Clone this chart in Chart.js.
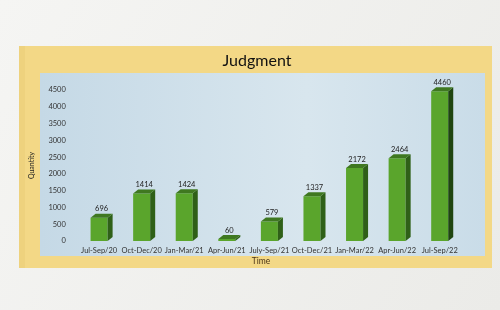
<!DOCTYPE html>
<html>
<head>
<meta charset="utf-8">
<script src="https://cdn.jsdelivr.net/npm/chart.js@4/dist/chart.umd.min.js"></script>
<style>
html,body{margin:0;padding:0;background:#efefec;}
#wrap{width:500px;height:310px;}
</style>
</head>
<body>
<div id="wrap"><canvas id="c" width="500" height="310"></canvas></div>
<script>
const categories = ["Jul-Sep/20","Oct-Dec/20","Jan-Mar/21","Apr-Jun/21","July-Sep/21","Oct-Dec/21","Jan-Mar/22","Apr-Jun/22","Jul-Sep/22"];
const judgments = [696, 1414, 1424, 60, 579, 1337, 2172, 2464, 4460];
const chartTitle = "Judgment";
const xTitle = "Time";
const yTitle = "Quantity";

const FONT = 'Lato, "Liberation Sans", sans-serif';

const backdrop = {
  id: 'backdrop',
  beforeDraw(chart) {
    const ctx = chart.ctx;
    ctx.save();
    const g = ctx.createLinearGradient(0, 0, 500, 310);
    g.addColorStop(0, '#f5f5f3');
    g.addColorStop(1, '#ebebe8');
    ctx.fillStyle = g;
    ctx.fillRect(0, 0, 500, 310);
    ctx.fillStyle = '#f3d886';
    ctx.fillRect(19, 46, 473, 222);
    ctx.fillStyle = '#eed27e';
    ctx.fillRect(19, 46, 6, 222);
    const b = ctx.createLinearGradient(40, 0, 485, 0);
    b.addColorStop(0, '#c5d9e6');
    b.addColorStop(0.6, '#d8e6ee');
    b.addColorStop(1, '#c9dce8');
    ctx.fillStyle = b;
    ctx.fillRect(40, 73, 445, 183);
    ctx.restore();
  },
  afterDraw(chart) {
    const ctx = chart.ctx;
    ctx.save();
    ctx.textAlign = 'center';
    ctx.textBaseline = 'middle';
    ctx.fillStyle = '#111';
    ctx.font = '16px ' + FONT;
    ctx.fillText(chartTitle, 257, 61);
    ctx.fillStyle = '#4a3418';
    ctx.font = '8.5px ' + FONT;
    ctx.fillText(xTitle, 261, 261);
    ctx.restore();
  }
};

const bars3d = {
  id: 'bars3d',
  afterDatasetsDraw(chart) {
    const ctx = chart.ctx;
    const meta = chart.getDatasetMeta(0);
    const dx = 5, dy = 4;
    ctx.save();
    meta.data.forEach((bar, i) => {
      const p = bar.getProps(['x', 'y', 'width', 'base'], true);
      const l = p.x - p.width / 2, r = p.x + p.width / 2;
      ctx.fillStyle = i === meta.data.length - 1 ? '#1f4510' : '#2f6018';
      ctx.beginPath();
      ctx.moveTo(r, p.y);
      ctx.lineTo(r + dx, p.y - dy);
      ctx.lineTo(r + dx, p.base - dy);
      ctx.lineTo(r, p.base);
      ctx.closePath();
      ctx.fill();
      ctx.fillStyle = '#3f7820';
      ctx.beginPath();
      ctx.moveTo(l, p.y);
      ctx.lineTo(l + dx, p.y - dy);
      ctx.lineTo(r + dx, p.y - dy);
      ctx.lineTo(r, p.y);
      ctx.closePath();
      ctx.fill();
      ctx.fillStyle = '#222';
      ctx.font = '7.5px ' + FONT;
      ctx.textAlign = 'center';
      ctx.textBaseline = 'bottom';
      ctx.fillText(String(judgments[i]), p.x + dx / 2, p.y - dy - 1);
    });
    ctx.restore();
  }
};

new Chart(document.getElementById('c'), {
  type: 'bar',
  data: {
    labels: categories,
    datasets: [{
      data: judgments,
      backgroundColor: '#5aa52c',
      borderWidth: 0,
      barPercentage: 0.4,
      categoryPercentage: 1.0
    }]
  },
  options: {
    responsive: false,
    animation: false,
    layout: { padding: { top: 90, left: 28, right: 39, bottom: 50 } },
    plugins: {
      legend: { display: false },
      tooltip: { enabled: false },
      title: { display: false }
    },
    scales: {
      x: {
        grid: { display: false, drawTicks: false },
        border: { display: false },
        ticks: { color: '#333', font: { family: FONT, size: 7.5 }, maxRotation: 0, autoSkip: false, padding: 5 }
      },
      y: {
        min: 0, max: 4500,
        grid: { display: false, drawTicks: false },
        border: { display: false },
        ticks: { stepSize: 500, color: '#333', font: { family: FONT, size: 7.5 }, padding: 12,
                 callback: v => String(v) },
        title: { display: true, text: yTitle, color: '#222', font: { family: FONT, size: 7 }, padding: { top: 0, bottom: 0 } }
      }
    }
  },
  plugins: [backdrop, bars3d]
});
</script>
</body>
</html>
